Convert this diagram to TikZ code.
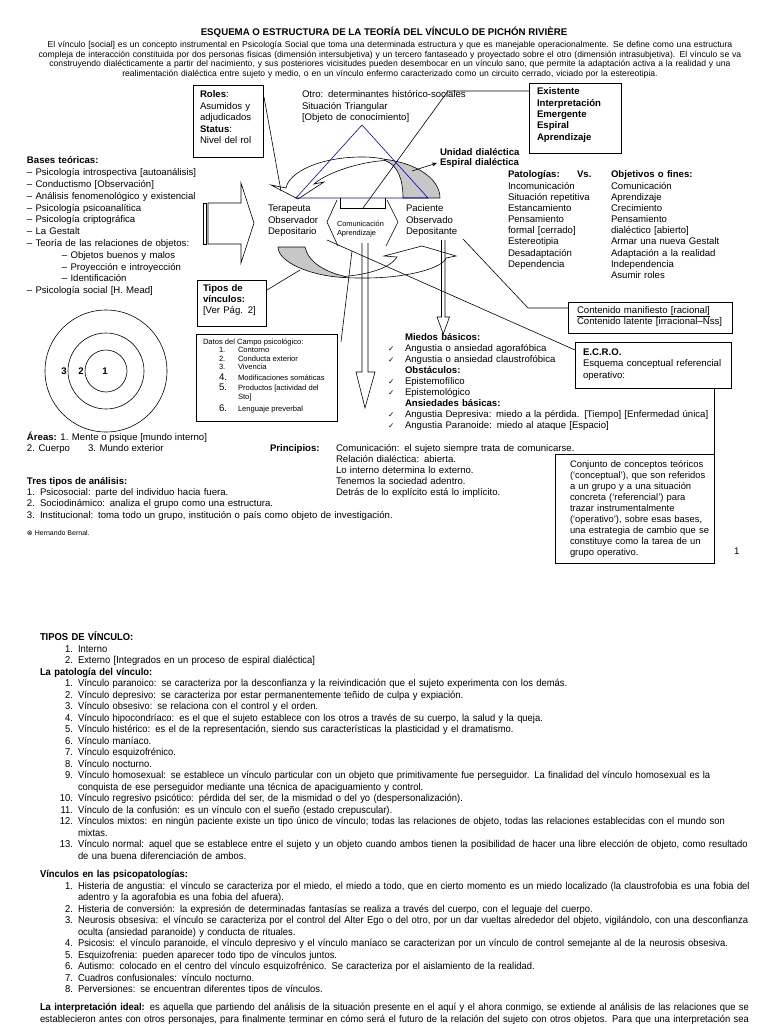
\documentclass[tikz,border=0pt]{standalone}
\usepackage{fontspec}
\setmainfont{Liberation Sans}
\newfontfamily\dejavu{DejaVu Sans}
\newfontfamily\narrowf[FakeStretch=0.94]{Liberation Sans}
\usetikzlibrary{arrows.meta}
\newcommand\fA{\fontsize{9.6}{11.3}\selectfont}
\newcommand\fS{\fontsize{7.6}{9}\selectfont}
\newcommand\fN{\narrowf\fontsize{10}{11.5}\selectfont}
\newcommand\ck{{\dejavu\fontsize{7.5}{9}\selectfont ✓}}
\tikzset{
  every node/.style={inner sep=0pt, outer sep=0pt},
  tx/.style={anchor=base west, align=left, text width=#1},
  tx/.default=300pt,
  box/.style={draw, line width=0.7pt, anchor=north west},
  ln/.style={line width=0.6pt},
  grayfill/.style={fill=black!22, draw, line width=0.6pt},
  whitefill/.style={fill=white, draw, line width=0.6pt},
}
\begin{document}
\begin{tikzpicture}[x=1pt,y=-1pt]
\fill[white] (0,0) rectangle (768,1024);
\useasboundingbox (0,0) rectangle (768,1024);

% ---------- title and intro
\node[anchor=base, font=\bfseries\fontsize{9.7}{10}\selectfont] (title) at (384,36) {ESQUEMA O ESTRUCTURA DE LA TEORÍA DEL VÍNCULO DE PICHÓN RIVIÈRE};
\node[anchor=base, align=center, text width=766pt, font=\fontsize{8.6}{9.7}\selectfont] (intro) at (390,47.5) {El vínculo [social] es un concepto instrumental en Psicología Social que toma una determinada estructura y que es manejable operacionalmente. Se define como una estructura\\compleja de interacción constituida por dos personas físicas (dimensión intersubjetiva) y un tercero fantaseado y proyectado sobre el otro (dimensión intrasubjetiva). El vínculo se va\\construyendo dialécticamente a partir del nacimiento, y sus posteriores vicisitudes pueden desembocar en un vínculo sano, que permite la adaptación activa a la realidad y una\\realimentación dialéctica entre sujeto y medio, o en un vínculo enfermo caracterizado como un circuito cerrado, viciado por la estereotipia.};

% ---------- central bands
\draw[whitefill] (314,184) -- (324,182) -- (298,199) -- (271,185) -- (286,188) .. controls (289,172) and (320,157) .. (362,157) .. controls (372,157) and (379,158) .. (385,159.3) -- (385,160.5) .. controls (360,162) and (328,172) .. (314,184) -- cycle;
\draw[grayfill] (385,159.3) .. controls (415,163) and (440,178) .. (440,198) -- (403,198) .. controls (403,180) and (398,165) .. (385,160.5) -- cycle;
\draw[whitefill] (345,277.6) .. controls (352,278) and (358,278) .. (365,278) .. controls (410,278) and (444,267) .. (446,258) -- (456,256) -- (422,246) -- (384,256) -- (397,257) .. controls (390,268) and (370,274) .. (345,276.4) -- cycle;
\draw[grayfill] (278,247) -- (305,247) .. controls (308,262) and (325,272) .. (345,276.4) -- (345,277.6) .. controls (310,276) and (278,262) .. (278,247) -- cycle;

% bracket and chevrons
\draw[ln] (340,198) -- (340,208) -- (385,208) -- (385,198);
\draw[ln] (337,200) -- (327,222) -- (338,246);
\draw[ln] (387,200) -- (398,222) -- (386,246);

% vertical arrows
\draw[ln] (362,243) -- (362,372) -- (356,372) -- (365,408) -- (375,372) -- (368,372) -- (368,243);
\draw[ln] (441.5,240) -- (441.5,317) -- (437,317) -- (443.3,334) -- (449.5,317) -- (445,317) -- (445,240);

% blue triangle
\draw[blue!75!black, line width=0.6pt] (362,125) -- (296,198) -- (428,198) -- cycle;

% left block arrow
\draw[ln] (203.5,203) rectangle (205.8,244);
\draw[ln, fill=white] (208,203) -- (241,203) -- (241,183) -- (254,223) -- (241,263) -- (241,244) -- (208,244) -- cycle;

% ---------- boxes and texts
\node[box, minimum width=70pt, minimum height=72pt] (roles) at (193,85) {};
\node[tx, font=\fontsize{9.6}{11.4}\selectfont] (rolest) at (200,98) {\textbf{Roles}:\\Asumidos y\\adjudicados\\\textbf{Status}:\\Nivel del rol};

\node[tx, font=\fA] (otro) at (302,98) {Otro: determinantes histórico-sociales\\Situación Triangular\\{}[Objeto de conocimiento]};

\node[box, minimum width=92pt, minimum height=70pt] (exist) at (529,83) {};
\node[tx, font=\bfseries\fA] (existt) at (537,95) {Existente\\Interpretación\\Emergente\\Espiral\\Aprendizaje};

\node[tx, font=\bfseries\fontsize{9.6}{9.6}\selectfont] (unidad) at (440,155.5) {Unidad dialéctica\\Espiral dialéctica};

\node[tx, font=\fontsize{9.6}{11.15}\selectfont] (pat) at (508,178) {\textbf{Patologías:}\\Incomunicación\\Situación repetitiva\\Estancamiento\\Pensamiento\\formal [cerrado]\\Estereotipia\\Desadaptación\\Dependencia};
\node[anchor=base west, font=\bfseries\fA] (vs) at (577,178) {Vs.};
\node[tx, font=\fontsize{9.6}{11.15}\selectfont] (obj) at (611,178) {\textbf{Objetivos o fines:}\\Comunicación\\Aprendizaje\\Crecimiento\\Pensamiento\\dialéctico [abierto]\\Armar una nueva Gestalt\\Adaptación a la realidad\\Independencia\\Asumir roles};

\node[tx, font=\fontsize{9.6}{11.8}\selectfont] (bases) at (27,164) {\textbf{Bases teóricas:}\\– Psicología introspectiva [autoanálisis]\\– Conductismo [Observación]\\– Análisis fenomenológico y existencial\\– Psicología psicoanalítica\\– Psicología criptográfica\\– La Gestalt\\– Teoría de las relaciones de objetos:\\\hspace*{35pt}– Objetos buenos y malos\\\hspace*{35pt}– Proyección e introyección\\\hspace*{35pt}– Identificación\\– Psicología social [H. Mead]};

\node[tx, font=\fontsize{9.6}{11.5}\selectfont] (ter) at (268,212) {Terapeuta\\Observador\\Depositario};
\node[tx, font=\fontsize{9.6}{11.5}\selectfont] (pac) at (406,212) {Paciente\\Observado\\Depositante};
\node[tx, font=\fontsize{7.4}{9}\selectfont] (com) at (337,226.5) {Comunicación\\Aprendizaje};

\node[box, minimum width=69pt, minimum height=46pt] (tipos) at (197,280) {};
\node[tx, font=\fA] (tipost) at (203,291) {\textbf{Tipos de}\\\textbf{vínculos:}\\{}[Ver Pág. 2]};

\node[box, minimum width=141pt, minimum height=87pt] (datos) at (196,334) {};
\node[anchor=base west, font=\fS] (d0) at (203,344.5) {Datos del Campo psicológico:};
\node[anchor=base west, font=\fS] (d1n) at (219,352.5) {1.};
\node[anchor=base west, font=\fS] (d1) at (238,352.5) {Contorno};
\node[anchor=base west, font=\fS] (d2n) at (219,361) {2.};
\node[anchor=base west, font=\fS] (d2) at (238,361) {Conducta exterior};
\node[anchor=base west, font=\fS] (d3n) at (219,369.5) {3.};
\node[anchor=base west, font=\fS] (d3) at (238,369.5) {Vivencia};
\node[anchor=base west, font=\fA] (d4n) at (219,380.5) {4.};
\node[anchor=base west, font=\fS] (d4) at (238,380.5) {Modificaciones somáticas};
\node[anchor=base west, font=\fA] (d5n) at (219,390.5) {5.};
\node[anchor=base west, font=\fS] (d5) at (238,390.5) {Productos [actividad del};
\node[anchor=base west, font=\fS] (d5b) at (238,399.5) {Sto]};
\node[anchor=base west, font=\fA] (d6n) at (219,411.5) {6.};
\node[anchor=base west, font=\fS] (d6) at (238,411.5) {Lenguaje preverbal};

% circles
\draw[ln] (106,371) circle[radius=61];
\draw[ln] (106,371) circle[radius=38];
\draw[ln] (106,371) circle[radius=21];
\node[anchor=base, font=\bfseries\fA] (n3) at (64,374.5) {3};
\node[anchor=base, font=\bfseries\fA] (n2) at (81,374.5) {2};
\node[anchor=base, font=\bfseries\fA] (n1) at (105,374.5) {1};

\node[anchor=base west, font=\fA] (areas) at (27,440) {\textbf{Áreas:} 1. Mente o psique [mundo interno]};
\node[anchor=base west, font=\fA] (areas2) at (27,451) {2. Cuerpo};
\node[anchor=base west, font=\fA] (areas3) at (88,451) {3. Mundo exterior};

\node[anchor=base west, font=\bfseries\fA] (princ) at (270,451) {Principios:};
\node[tx, font=\fontsize{9.6}{11}\selectfont] (princl) at (336,451) {Comunicación: el sujeto siempre trata de comunicarse.\\Relación dialéctica: abierta.\\Lo interno determina lo externo.\\Tenemos la sociedad adentro.\\Detrás de lo explícito está lo implícito.};

\node[anchor=base west, font=\bfseries\fA] (tres) at (27,484) {Tres tipos de análisis:};
\node[tx, font=\fontsize{9.6}{11.5}\selectfont] (tresn) at (27,495) {1.\\2.\\3.};
\node[tx=420pt, font=\fontsize{9.6}{11.5}\selectfont] (tresl) at (40,495) {Psicosocial: parte del individuo hacia fuera.\\Sociodinámico: analiza el grupo como una estructura.\\Institucional: toma todo un grupo, institución o país como objeto de investigación.};
\node[anchor=base west, font=\fontsize{7}{8}\selectfont] (hb) at (27,535) {{\dejavu ⊗} Hernando Bernal.};

% miedos
\node[tx=420pt, font=\fontsize{9.6}{11.1}\selectfont] (miedos) at (405,340) {\textbf{Miedos básicos:}\\Angustia o ansiedad agorafóbica\\Angustia o ansiedad claustrofóbica\\\textbf{Obstáculos:}\\Epistemofílico\\Epistemológico\\\textbf{Ansiedades básicas:}\\Angustia Depresiva: miedo a la pérdida. [Tiempo] [Enfermedad única]\\Angustia Paranoide: miedo al ataque [Espacio]};
\foreach \y [count=\i] in {351.1,362.2,384.4,395.5,417.7,428.8}
  \node[anchor=base west] (ck\i) at (388,\y) {\ck};

\node[box, minimum width=164pt, minimum height=31pt] (cont) at (568,302) {};
\node[tx, font=\fontsize{9.6}{11}\selectfont] (contt) at (577,313) {\underline{Contenido manifiesto [racional]}\\Contenido latente [irracional–Nss]};

\node[box, minimum width=156pt, minimum height=46pt] (ecro) at (575,342) {};
\node[tx, font=\fontsize{9.6}{11.5}\selectfont] (ecrot) at (583,355) {\textbf{E.C.R.O.}\\Esquema conceptual referencial\\operativo:};

\node[box, minimum width=159pt, minimum height=109pt] (conj) at (555,454) {};
\node[tx, font=\fontsize{9.4}{11}\selectfont] (conjt) at (570,467) {Conjunto de conceptos teóricos\\(‘conceptual’), que son referidos\\a un grupo y a una situación\\concreta (‘referencial’) para\\trazar instrumentalmente\\(‘operativo’), sobre esas bases,\\una estrategia de cambio que se\\constituye como la tarea de un\\grupo operativo.};
\node[anchor=base west, font=\fA] (pg) at (734,554) {1};

% ---------- connectors
\coordinate (rA) at (264,97);
\coordinate (rB) at (281,191);
\draw[ln] (rA) -- (rB);
\coordinate (eA) at (448,91);
\coordinate (eB) at (363,208);
\draw[ln] ([yshift=-8pt]exist.north west) -- (eA) -- (eB);
\coordinate (uA) at (412,171);
\coordinate (uB) at (437,163);
\draw[ln, -{Stealth[length=5pt,width=4pt]}] (uA) -- (uB);
\coordinate (dA) at (463,239);
\coordinate (dB) at (528,308);
\draw[ln] (dA) -- (dB) -- ([yshift=-6pt]cont.north west);
\coordinate (lA) at (327,240);
\draw[ln] (lA) -- ([yshift=-8pt]ecro.north west);
\coordinate (gA) at (352,251);
\coordinate (gB) at (341,342);
\draw[ln] (gA) -- (gB);
\coordinate (tA) at (267,290);
\coordinate (tB) at (300,270);
\draw[ln] (tA) -- (tB);
\draw[ln] (ecro.south east) ++(-17,0) coordinate (eC) -- (eC |- conj.north);

% ---------- page 2
\node[anchor=base east, align=right, text width=30pt, font=\fN] (p2n) at (73,640.5) {\mbox{}\\1.\\2.\\\mbox{}\\1.\\2.\\3.\\4.\\5.\\6.\\7.\\8.\\9.\\\mbox{}\\10.\\11.\\12.\\\mbox{}\\13.};
\node[tx=700pt, font=\fN] (p2t) at (78,640.5) {\hspace*{-38pt}\textbf{TIPOS DE VÍNCULO:}\\
Interno\\
Externo [Integrados en un proceso de espiral dialéctica]\\
\hspace*{-38pt}\textbf{La patología del vínculo:}\\
Vínculo paranoico: se caracteriza por la desconfianza y la reivindicación que el sujeto experimenta con los demás.\\
Vínculo depresivo: se caracteriza por estar permanentemente teñido de culpa y expiación.\\
Vínculo obsesivo: se relaciona con el control y el orden.\\
Vínculo hipocondríaco: es el que el sujeto establece con los otros a través de su cuerpo, la salud y la queja.\\
Vínculo histérico: es el de la representación, siendo sus características la plasticidad y el dramatismo.\\
Vínculo maníaco.\\
Vínculo esquizofrénico.\\
Vínculo nocturno.\\
\makebox[670pt][s]{Vínculo homosexual: se establece un vínculo particular con un objeto que primitivamente fue perseguidor. La finalidad del vínculo homosexual es la}\\
conquista de ese perseguidor mediante una técnica de apaciguamiento y control.\\
Vínculo regresivo psicótico: pérdida del ser, de la mismidad o del yo (despersonalización).\\
Vínculo de la confusión: es un vínculo con el sueño (estado crepuscular).\\
\makebox[670pt][s]{Vínculos mixtos: en ningún paciente existe un tipo único de vínculo; todas las relaciones de objeto, todas las relaciones establecidas con el mundo son}\\
mixtas.\\
\makebox[670pt][s]{Vínculo normal: aquel que se establece entre el sujeto y un objeto cuando ambos tienen la posibilidad de hacer una libre elección de objeto, como resultado}\\
de una buena diferenciación de ambos.};

\node[anchor=base east, align=right, text width=30pt, font=\fN] (p3n) at (73,877.5) {\mbox{}\\1.\\\mbox{}\\2.\\3.\\\mbox{}\\4.\\5.\\6.\\7.\\8.};
\node[tx=700pt, font=\fN] (p3t) at (78,877.5) {\hspace*{-38pt}\textbf{Vínculos en las psicopatologías:}\\
\makebox[670pt][s]{Histeria de angustia: el vínculo se caracteriza por el miedo, el miedo a todo, que en cierto momento es un miedo localizado (la claustrofobia es una fobia del}\\
adentro y la agorafobia es una fobia del afuera).\\
Histeria de conversión: la expresión de determinadas fantasías se realiza a través del cuerpo, con el leguaje del cuerpo.\\
\makebox[670pt][s]{Neurosis obsesiva: el vínculo se caracteriza por el control del Alter Ego o del otro, por un dar vueltas alrededor del objeto, vigilándolo, con una desconfianza}\\
oculta (ansiedad paranoide) y conducta de rituales.\\
Psicosis: el vínculo paranoide, el vínculo depresivo y el vínculo maníaco se caracterizan por un vínculo de control semejante al de la neurosis obsesiva.\\
Esquizofrenia: pueden aparecer todo tipo de vínculos juntos.\\
Autismo: colocado en el centro del vínculo esquizofrénico. Se caracteriza por el aislamiento de la realidad.\\
Cuadros confusionales: vínculo nocturno.\\
Perversiones: se encuentran diferentes tipos de vínculos.};

\node[tx=720pt, font=\fN] (p4t) at (40,1010.5) {\makebox[708pt][s]{\textbf{La interpretación ideal:} es aquella que partiendo del análisis de la situación presente en el aquí y el ahora conmigo, se extiende al análisis de las relaciones que se}\\
\makebox[708pt][s]{establecieron antes con otros personajes, para finalmente terminar en cómo será el futuro de la relación del sujeto con otros objetos. Para que una interpretación sea}};
\end{tikzpicture}
\end{document}
